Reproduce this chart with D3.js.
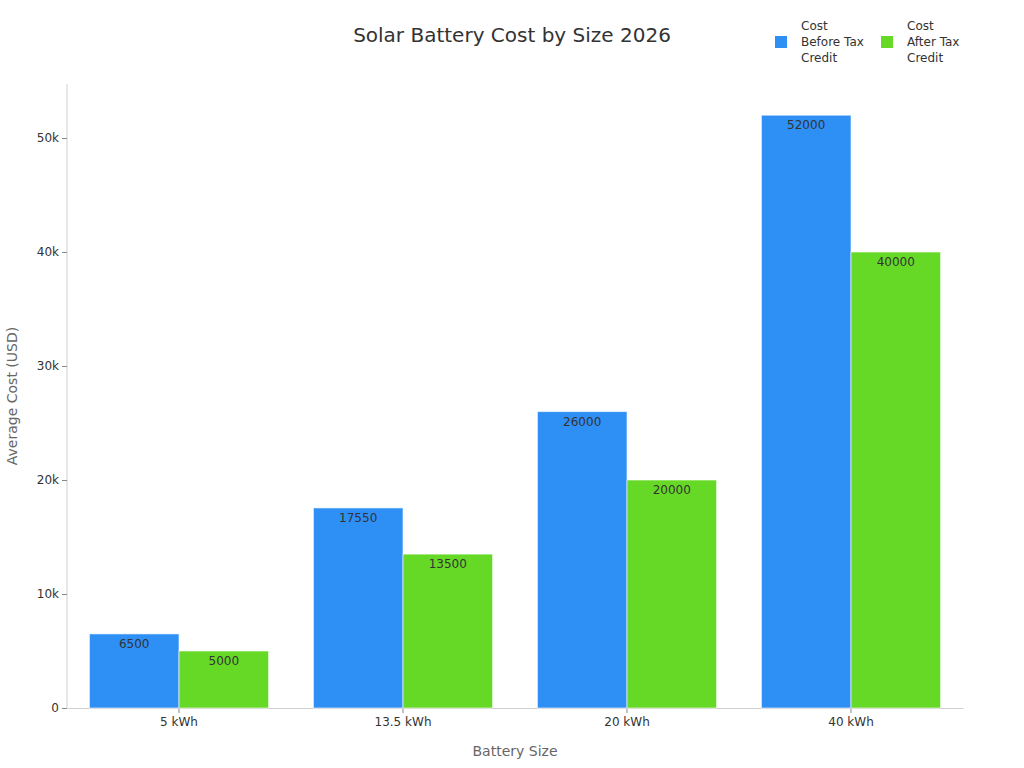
<!DOCTYPE html>
<html>
<head>
<meta charset="utf-8">
<script src="https://cdn.jsdelivr.net/npm/d3@7"></script>
<style>
  body { margin: 0; background: #fff; font-family: "DejaVu Sans", sans-serif; }
</style>
</head>
<body>
<div id="chart"></div>
<script>
var categories = ["5 kWh", "13.5 kWh", "20 kWh", "40 kWh"];
var seriesNames = ["Cost Before Tax Credit", "Cost After Tax Credit"];
var beforeCredit = [6500, 17550, 26000, 52000];
var afterCredit = [5000, 13500, 20000, 40000];
var yTicks = [0, 10000, 20000, 30000, 40000, 50000];
var colors = ["#2e8ff5", "#66d926"];

var width = 1024, height = 768;
var margin = { top: 84, right: 61, bottom: 60, left: 67 };
var plotW = width - margin.left - margin.right,
  plotH = height - margin.top - margin.bottom;

var svg = d3.select("#chart").append("svg")
  .attr("width", width)
  .attr("height", height);

var x0 = d3.scaleBand()
  .domain(categories)
  .range([0, plotW])
  .paddingInner(0.2)
  .paddingOuter(0.1);

var x1 = d3.scaleBand()
  .domain([0, 1])
  .range([0, x0.bandwidth()]);

var y = d3.scaleLinear()
  .domain([0, 54737])
  .range([plotH, 0]);

var g = svg.append("g")
  .attr("transform", "translate(" + margin.left + "," + margin.top + ")");

// axes
var yAxis = g.append("g")
  .call(d3.axisLeft(y).tickValues(yTicks).tickSize(5).tickPadding(3)
    .tickFormat(function(d) { return d === 0 ? "0" : (d / 1000) + "k"; }));
yAxis.select(".domain").attr("stroke", "#d0d0d0").attr("d", "M0," + plotH + "V0");
yAxis.selectAll(".tick line").attr("stroke", "#888");
yAxis.selectAll(".tick text").attr("fill", "#333").style("font-size", "12px")
  .style("font-family", "DejaVu Sans, sans-serif");

var xAxis = g.append("g")
  .attr("transform", "translate(0," + plotH + ")")
  .call(d3.axisBottom(x0).tickSize(5).tickPadding(4).tickSizeOuter(0));
xAxis.select(".domain").attr("stroke", "#d0d0d0");
xAxis.selectAll(".tick line").attr("stroke", "#888");
xAxis.selectAll(".tick text").attr("fill", "#333").style("font-size", "12px")
  .style("font-family", "DejaVu Sans, sans-serif");

// bars
var rows = categories.map(function(c, i) {
  return { cat: c, values: [beforeCredit[i], afterCredit[i]] };
});

var groups = g.selectAll(".group")
  .data(rows)
  .enter().append("g")
  .attr("class", "group")
  .attr("transform", function(d) { return "translate(" + x0(d.cat) + ",0)"; });

groups.selectAll("rect")
  .data(function(d) { return d.values.map(function(v, k) { return { k: k, v: v }; }); })
  .enter().append("rect")
  .attr("x", function(d) { return x1(d.k); })
  .attr("y", function(d) { return y(d.v); })
  .attr("width", x1.bandwidth())
  .attr("height", function(d) { return plotH - y(d.v); })
  .attr("fill", function(d) { return colors[d.k]; })
  .attr("stroke", "#ffffff")
  .attr("stroke-opacity", 0.6)
  .attr("stroke-width", 1);

groups.selectAll(".label")
  .data(function(d) { return d.values.map(function(v, k) { return { k: k, v: v }; }); })
  .enter().append("text")
  .attr("class", "label")
  .attr("x", function(d) { return x1(d.k) + x1.bandwidth() / 2; })
  .attr("y", function(d) { return y(d.v) + 14; })
  .attr("text-anchor", "middle")
  .attr("fill", "#333")
  .style("font-size", "12px")
  .text(function(d) { return d.v; });

// titles
svg.append("text")
  .attr("x", 512)
  .attr("y", 42)
  .attr("text-anchor", "middle")
  .attr("fill", "#333")
  .style("font-size", "20px")
  .text("Solar Battery Cost by Size 2026");

svg.append("text")
  .attr("x", margin.left + plotW / 2)
  .attr("y", 756)
  .attr("text-anchor", "middle")
  .attr("fill", "#666")
  .style("font-size", "14px")
  .text("Battery Size");

svg.append("text")
  .attr("transform", "translate(17," + (margin.top + plotH / 2) + ") rotate(-90)")
  .attr("text-anchor", "middle")
  .attr("fill", "#666")
  .style("font-size", "14px")
  .text("Average Cost (USD)");

// legend
var legendLines = [["Cost", "Before Tax", "Credit"], ["Cost", "After Tax", "Credit"]];
var legend = svg.append("g");
var legendX = [775, 881];
legendLines.forEach(function(lines, i) {
  var item = legend.append("g").attr("transform", "translate(" + legendX[i] + ",0)");
  item.append("rect")
    .attr("x", 0).attr("y", 36)
    .attr("width", 12).attr("height", 12)
    .attr("fill", colors[i]);
  var t = item.append("text")
    .attr("fill", "#333")
    .style("font-size", "12px");
  lines.forEach(function(line, j) {
    t.append("tspan").attr("x", 26).attr("y", 30 + j * 16).text(line);
  });
});
</script>
</body>
</html>
